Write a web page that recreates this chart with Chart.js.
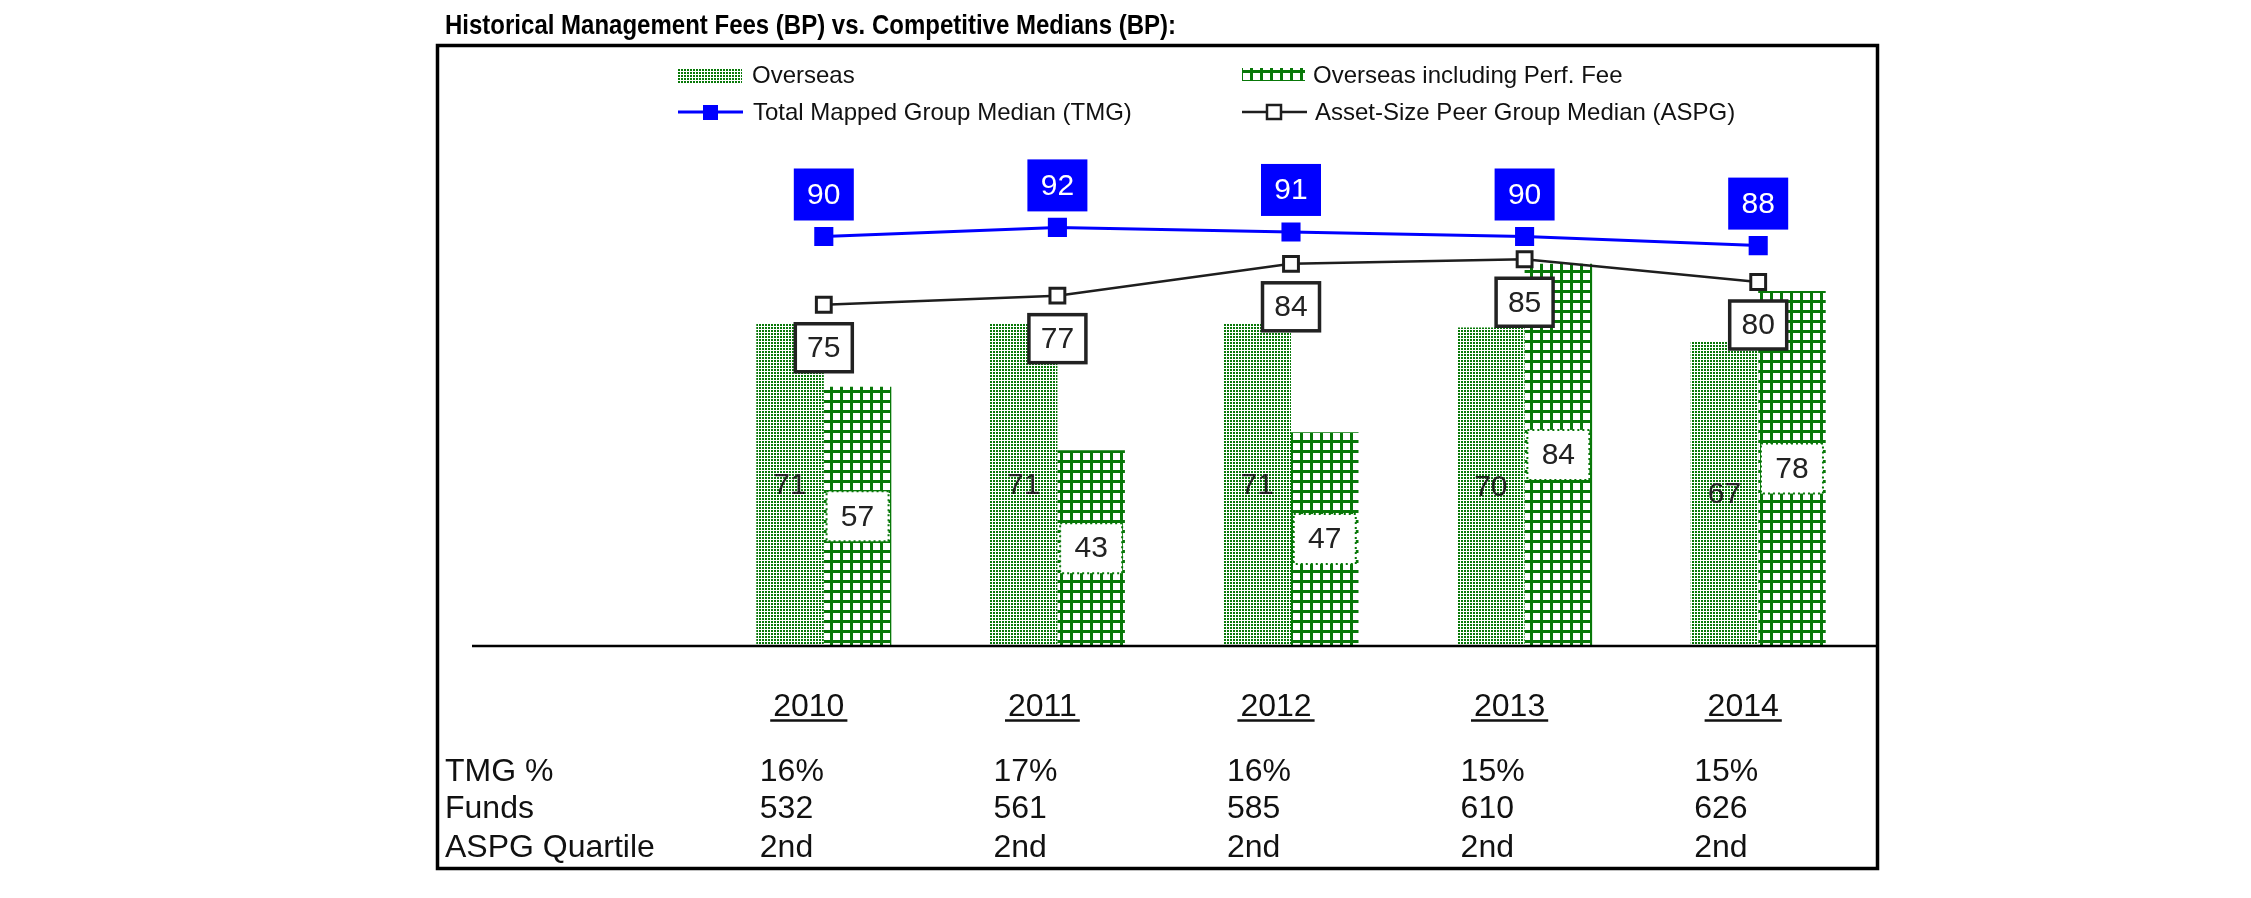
<!DOCTYPE html>
<html><head><meta charset="utf-8">
<script src="https://cdn.jsdelivr.net/npm/chart.js@4/dist/chart.umd.min.js"></script>
<style>html,body{margin:0;padding:0;background:#fff;overflow:hidden}#wrap{width:2251px;height:898px}</style>
</head><body><div id="wrap"><canvas id="c" width="2251" height="898"></canvas></div>
<script>
// ---- data ----
const chartTitle = 'Historical Management Fees (BP) vs. Competitive Medians (BP):';
const years = ['2010', '2011', '2012', '2013', '2014'];
const overseas = [71, 71, 71, 70, 67];
const overseasPerf = [57, 43, 47, 84, 78];
const tmgMedian = [90, 92, 91, 90, 88];
const aspgMedian = [75, 77, 84, 85, 80];
const seriesNames = ['Overseas', 'Overseas including Perf. Fee', 'Total Mapped Group Median (TMG)', 'Asset-Size Peer Group Median (ASPG)'];
const tableRowLabels = ['TMG %', 'Funds', 'ASPG Quartile'];
const tmgPct = ['16%', '17%', '16%', '15%', '15%'];
const funds = ['532', '561', '585', '610', '626'];
const aspgQuartile = ['2nd', '2nd', '2nd', '2nd', '2nd'];

// ---- styles ----
const FONT = "'Liberation Sans', Arial, Helvetica, sans-serif";
const GREEN = '#087808';
const BLUE = '#0000ff';
const DARK = '#1e1e1e';

function makeDots() {
  const c = document.createElement('canvas'); c.width = 3; c.height = 3;
  const x = c.getContext('2d');
  x.fillStyle = '#ffffff'; x.fillRect(0, 0, 3, 3);
  x.fillStyle = GREEN; x.fillRect(0, 0, 2, 2);
  return x.createPattern(c, 'repeat');
}
function makeGrid() {
  const c = document.createElement('canvas'); c.width = 10; c.height = 10;
  const x = c.getContext('2d');
  x.fillStyle = '#ffffff'; x.fillRect(0, 0, 10, 10);
  x.fillStyle = GREEN; x.fillRect(0, 0, 3, 10); x.fillRect(0, 0, 10, 3);
  return x.createPattern(c, 'repeat');
}
const dotPattern = makeDots();
const gridPattern = makeGrid();

function boxLabel(ctx, cx, cy, w, h, text, fill, stroke, lw, color, dash) {
  ctx.save();
  ctx.fillStyle = fill;
  ctx.fillRect(cx - w / 2, cy - h / 2, w, h);
  if (stroke) {
    ctx.strokeStyle = stroke; ctx.lineWidth = lw;
    if (dash) ctx.setLineDash(dash);
    ctx.strokeRect(cx - w / 2, cy - h / 2, w, h);
  }
  ctx.setLineDash([]);
  ctx.fillStyle = color;
  ctx.font = '30px ' + FONT;
  ctx.textAlign = 'center'; ctx.textBaseline = 'middle';
  ctx.fillText(text, cx, cy + 1);
  ctx.restore();
}

const decor = {
  id: 'decor',
  beforeDraw(chart) {
    const ctx = chart.ctx;
    ctx.save(); ctx.fillStyle = '#fff'; ctx.fillRect(0, 0, chart.width, chart.height); ctx.restore();
  },
  afterDatasetsDraw(chart) {
    const ctx = chart.ctx;
    const xs = chart.scales.x, ys = chart.scales.y;
    const zeroY = ys.getPixelForValue(0);
    ctx.save();
    // frame
    ctx.strokeStyle = '#000'; ctx.lineWidth = 3.5;
    ctx.strokeRect(437.5, 45.5, 1440, 823);
    // baseline
    ctx.lineWidth = 2.5;
    ctx.beginPath(); ctx.moveTo(472, zeroY); ctx.lineTo(1878, zeroY); ctx.stroke();
    // title (slightly condensed, as in the original)
    ctx.fillStyle = '#000';
    ctx.font = 'bold 27px ' + FONT;
    ctx.textAlign = 'left'; ctx.textBaseline = 'alphabetic';
    const tw = ctx.measureText(chartTitle).width;
    ctx.save();
    ctx.translate(445, 34);
    ctx.scale(731 / tw, 1);
    ctx.fillText(chartTitle, 0, 0);
    ctx.restore();
    // legend
    ctx.font = '24px ' + FONT;
    ctx.fillStyle = dotPattern; ctx.fillRect(678, 68, 64, 15);
    ctx.fillStyle = gridPattern; ctx.fillRect(1242, 68, 63, 13);
    ctx.fillStyle = '#111';
    ctx.fillText(seriesNames[0], 752, 83);
    ctx.fillText(seriesNames[1], 1313, 83);
    ctx.strokeStyle = BLUE; ctx.lineWidth = 3;
    ctx.beginPath(); ctx.moveTo(678, 112); ctx.lineTo(743, 112); ctx.stroke();
    ctx.fillStyle = BLUE; ctx.fillRect(703, 105, 15, 15);
    ctx.strokeStyle = DARK; ctx.lineWidth = 2.5;
    ctx.beginPath(); ctx.moveTo(1242, 112); ctx.lineTo(1307, 112); ctx.stroke();
    ctx.fillStyle = '#fff'; ctx.fillRect(1267, 105, 14, 14); ctx.strokeRect(1267, 105, 14, 14);
    ctx.fillStyle = '#111';
    ctx.fillText(seriesNames[2], 753, 120);
    ctx.fillText(seriesNames[3], 1315, 120);

    // bar labels
    const m0 = chart.getDatasetMeta(0), m1 = chart.getDatasetMeta(1);
    const m2 = chart.getDatasetMeta(2), m3 = chart.getDatasetMeta(3);
    m0.data.forEach((b, i) => {
      ctx.save();
      ctx.fillStyle = '#222'; ctx.font = '30px ' + FONT;
      ctx.textAlign = 'center'; ctx.textBaseline = 'middle';
      ctx.fillText(String(overseas[i]), b.x, (b.y + b.base) / 2 + 1);
      ctx.restore();
    });
    m1.data.forEach((b, i) => {
      boxLabel(ctx, b.x, (b.y + b.base) / 2, 62, 50, String(overseasPerf[i]), '#fff', GREEN, 2, '#222', [2, 3]);
    });
    m2.data.forEach((p, i) => {
      boxLabel(ctx, p.x, p.y - 42, 60, 52, String(tmgMedian[i]), BLUE, null, 0, '#fff');
    });
    m3.data.forEach((p, i) => {
      boxLabel(ctx, p.x, p.y + 43, 57, 48, String(aspgMedian[i]), '#fff', '#222', 3.5, '#222');
    });

    // years (underlined)
    ctx.font = '32px ' + FONT;
    ctx.fillStyle = '#111'; ctx.strokeStyle = '#111'; ctx.lineWidth = 2.5;
    years.forEach((yr, i) => {
      const cx = xs.getPixelForValue(i) - 15;
      const w = ctx.measureText(yr).width;
      ctx.textAlign = 'center'; ctx.textBaseline = 'alphabetic';
      ctx.fillText(yr, cx, 716);
      ctx.beginPath(); ctx.moveTo(cx - w / 2 - 3, 720.5); ctx.lineTo(cx + w / 2 + 3, 720.5); ctx.stroke();
    });
    // table
    const rows = [tmgPct, funds, aspgQuartile];
    const baselines = [781, 818, 857];
    ctx.textAlign = 'left';
    tableRowLabels.forEach((lab, r) => {
      ctx.fillText(lab, 445, baselines[r]);
      rows[r].forEach((v, i) => {
        ctx.fillText(v, xs.getPixelForValue(i) - 64, baselines[r]);
      });
    });
    ctx.restore();
  }
};

new Chart(document.getElementById('c'), {
  data: {
    labels: years,
    datasets: [
      { type: 'bar', label: seriesNames[0], data: overseas, backgroundColor: dotPattern, borderWidth: 0, order: 2, categoryPercentage: 0.578, barPercentage: 1.0 },
      { type: 'bar', label: seriesNames[1], data: overseasPerf, backgroundColor: gridPattern, borderWidth: 0, order: 2, categoryPercentage: 0.578, barPercentage: 1.0 },
      { type: 'line', label: seriesNames[2], data: tmgMedian, borderColor: BLUE, borderWidth: 3, tension: 0,
        pointStyle: 'rect', pointRadius: 13.5, pointBackgroundColor: BLUE, pointBorderColor: BLUE, pointBorderWidth: 0, order: 0 },
      { type: 'line', label: seriesNames[3], data: aspgMedian, borderColor: DARK, borderWidth: 2.5, tension: 0,
        pointStyle: 'rect', pointRadius: 10.5, pointBackgroundColor: '#fff', pointBorderColor: DARK, pointBorderWidth: 3, order: 1 }
    ]
  },
  options: {
    responsive: false,
    maintainAspectRatio: false,
    animation: false,
    events: [],
    layout: { padding: { left: 707, right: 376, top: 191, bottom: 252 } },
    scales: {
      x: { display: false, offset: true },
      y: { display: false, min: 0, max: 100 }
    },
    plugins: { legend: { display: false }, title: { display: false }, tooltip: { enabled: false } }
  },
  plugins: [decor]
});
</script>
</body></html>
